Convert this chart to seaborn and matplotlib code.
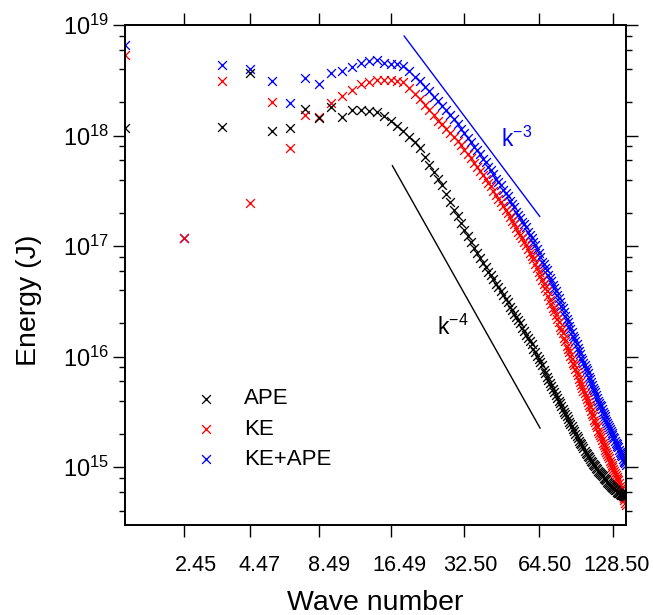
import numpy as np
import matplotlib
matplotlib.use("Agg")
import matplotlib.pyplot as plt
import matplotlib.ticker as mticker
import matplotlib.transforms as mtransforms
import seaborn as sns

# spectral index n = 1..144, plotted at the total wave number sqrt(n(n+1))
n_index = np.arange(1, 145)

# log10 of energy (J), one value per n
ape_log10 = [
    18.07, np.nan, 18.08, 18.57, 18.04, 18.07, 18.24, 18.16, 18.26, 18.17,
    18.23, 18.23, 18.22, 18.21, 18.18, 18.13, 18.09, 18.04, 17.99, 17.94,
    17.89, 17.81, 17.73, 17.67, 17.61, 17.55, 17.47, 17.40, 17.33, 17.27,
    17.21, 17.15, 17.09, 17.04, 16.98, 16.94, 16.89, 16.85, 16.81, 16.77,
    16.74, 16.70, 16.66, 16.63, 16.59, 16.56, 16.52, 16.49, 16.45, 16.42,
    16.39, 16.36, 16.33, 16.30, 16.26, 16.23, 16.20, 16.17, 16.14, 16.11,
    16.07, 16.04, 16.01, 15.98, 15.95, 15.92, 15.88, 15.85, 15.82, 15.79,
    15.76, 15.73, 15.71, 15.68, 15.65, 15.63, 15.60, 15.58, 15.55, 15.53,
    15.50, 15.48, 15.46, 15.44, 15.41, 15.39, 15.37, 15.35, 15.33, 15.30,
    15.28, 15.26, 15.24, 15.22, 15.21, 15.19, 15.17, 15.15, 15.13, 15.12,
    15.10, 15.09, 15.07, 15.06, 15.05, 15.03, 15.02, 15.01, 14.99, 14.98,
    14.97, 14.96, 14.95, 14.94, 14.93, 14.92, 14.90, 14.89, 14.89, 14.88,
    14.87, 14.86, 14.85, 14.84, 14.83, 14.82, 14.82, 14.81, 14.80, 14.79,
    14.79, 14.78, 14.78, 14.77, 14.77, 14.76, 14.76, 14.75, 14.75, 14.75,
    14.74, 14.74, 14.74, 14.74,
]

ke_log10 = [
    18.73, 17.07, 18.49, 17.39, 18.30, 17.89, 18.19, 18.17, 18.29, 18.36,
    18.41, 18.47, 18.48, 18.50, 18.50, 18.50, 18.49, 18.48, 18.43, 18.38,
    18.33, 18.28, 18.23, 18.19, 18.13, 18.10, 18.06, 18.02, 17.99, 17.95,
    17.91, 17.87, 17.83, 17.80, 17.75, 17.72, 17.68, 17.64, 17.61, 17.57,
    17.54, 17.50, 17.46, 17.43, 17.40, 17.36, 17.33, 17.30, 17.26, 17.23,
    17.20, 17.16, 17.13, 17.10, 17.07, 17.04, 17.01, 16.97, 16.94, 16.91,
    16.88, 16.84, 16.80, 16.77, 16.73, 16.69, 16.66, 16.62, 16.59, 16.55,
    16.51, 16.48, 16.44, 16.41, 16.38, 16.34, 16.31, 16.27, 16.24, 16.21,
    16.17, 16.14, 16.10, 16.07, 16.04, 16.01, 15.98, 15.94, 15.92, 15.89,
    15.86, 15.83, 15.80, 15.77, 15.74, 15.72, 15.69, 15.67, 15.64, 15.62,
    15.59, 15.56, 15.54, 15.51, 15.48, 15.46, 15.43, 15.41, 15.38, 15.36,
    15.33, 15.31, 15.29, 15.27, 15.25, 15.22, 15.20, 15.18, 15.16, 15.14,
    15.12, 15.10, 15.08, 15.06, 15.04, 15.02, 15.00, 14.98, 14.97, 14.95,
    14.93, 14.91, 14.89, 14.88, 14.86, 14.83, 14.81, 14.79, 14.77, 14.74,
    14.72, 14.70, 14.68, 14.66,
]

total_log10 = [
    18.82, 17.07, 18.64, 18.60, 18.49, 18.29, 18.52, 18.47, 18.57, 18.58,
    18.62, 18.66, 18.67, 18.68, 18.66, 18.65, 18.65, 18.63, 18.58, 18.53,
    18.49, 18.44, 18.40, 18.35, 18.31, 18.27, 18.23, 18.19, 18.15, 18.10,
    18.06, 18.02, 17.98, 17.94, 17.90, 17.87, 17.83, 17.79, 17.76, 17.72,
    17.69, 17.65, 17.61, 17.58, 17.55, 17.51, 17.48, 17.45, 17.41, 17.38,
    17.35, 17.31, 17.28, 17.25, 17.22, 17.20, 17.17, 17.13, 17.10, 17.07,
    17.04, 17.01, 16.97, 16.94, 16.90, 16.86, 16.84, 16.80, 16.78, 16.74,
    16.71, 16.68, 16.65, 16.62, 16.59, 16.56, 16.53, 16.49, 16.46, 16.44,
    16.40, 16.37, 16.34, 16.31, 16.28, 16.25, 16.22, 16.19, 16.17, 16.14,
    16.11, 16.08, 16.05, 16.02, 15.99, 15.97, 15.94, 15.92, 15.90, 15.88,
    15.85, 15.82, 15.80, 15.77, 15.74, 15.72, 15.70, 15.68, 15.65, 15.63,
    15.60, 15.58, 15.56, 15.55, 15.53, 15.50, 15.48, 15.46, 15.44, 15.42,
    15.40, 15.38, 15.36, 15.35, 15.33, 15.31, 15.29, 15.27, 15.26, 15.24,
    15.22, 15.21, 15.19, 15.18, 15.16, 15.14, 15.13, 15.11, 15.10, 15.07,
    15.06, 15.05, 15.04, 15.02,
]

# reference slopes k^-3 and k^-4 (end points)
k3_wave = [18.6, 65.2]
k3_energy = [7.98e18, 1.85e17]
k4_wave = [16.69, 65.4]
k4_energy = [5.36e17, 2.25e15]

tick_values = [2.449, 4.472, 8.485, 16.492, 32.496, 64.498, 128.498]
tick_labels = ["2.45", "4.47", "8.49", "16.49", "32.50", "64.50", "128.50"]

wave = np.sqrt(n_index * (n_index + 1.0))
ape = 10.0 ** np.array(ape_log10)
ke = 10.0 ** np.array(ke_log10)
total = 10.0 ** np.array(total_log10)

sns.set_style("white")
plt.rcParams["font.family"] = ["Liberation Sans", "DejaVu Sans"]
plt.rcParams["mathtext.fontset"] = "custom"
plt.rcParams["mathtext.rm"] = "Liberation Sans"
plt.rcParams["mathtext.it"] = "Liberation Sans:italic"
plt.rcParams["text.color"] = "black"
plt.rcParams["axes.labelcolor"] = "black"
plt.rcParams["xtick.color"] = "black"
plt.rcParams["ytick.color"] = "black"

fig = plt.figure(figsize=(6.53, 6.15), dpi=100)
ax = fig.add_axes([125 / 653, 90 / 615, 501 / 653, 500 / 615])

sns.lineplot(x=k3_wave, y=k3_energy, color="blue", lw=1.0, ax=ax)
sns.lineplot(x=k4_wave, y=k4_energy, color="black", lw=1.0, ax=ax)

mk = dict(marker="x", s=40, linewidth=0.95, ax=ax)
sns.scatterplot(x=wave, y=total, color="blue", label="KE+APE", **mk)
sns.scatterplot(x=wave, y=ke, color="red", label="KE", **mk)
sns.scatterplot(x=wave, y=ape, color="black", label="APE", **mk)

ax.set_xscale("log")
ax.set_yscale("log")
ax.set_xlim(np.sqrt(2.0), np.sqrt(144 * 145.0))
ax.set_ylim(3e14, 1e19)

ax.set_xticks(tick_values, tick_labels)
ax.xaxis.set_minor_locator(mticker.NullLocator())
ax.yaxis.set_major_locator(mticker.LogLocator(base=10, numticks=12))
ax.yaxis.set_minor_locator(mticker.LogLocator(base=10, subs=(2, 4, 6, 8), numticks=12))
ax.yaxis.set_minor_formatter(mticker.NullFormatter())

for sp in ax.spines.values():
    sp.set_linewidth(1.4)
    sp.set_color("black")
ax.tick_params(which="both", direction="out", top=True, right=True,
               bottom=True, left=True, labeltop=False, labelright=False,
               labelbottom=True, labelleft=True, width=1.0, color="black",
               labelcolor="black")
ax.tick_params(which="major", length=8.5)
ax.tick_params(which="minor", length=4.3)
ax.tick_params(axis="x", which="major", pad=13, labelsize=15.6)
ax.tick_params(axis="y", which="major", pad=3, labelsize=17)

# labels in the original sit a little right of their ticks
label_shift_px = [11, 10, 10, 8, 6, 6, 3]
for lab, dx in zip(ax.get_xticklabels(), label_shift_px):
    off = mtransforms.ScaledTranslation(dx / 100, 0, fig.dpi_scale_trans)
    lab.set_transform(lab.get_transform() + off)

ax.set_xlabel("Wave number", fontsize=20.5, labelpad=10)
ax.set_ylabel("Energy (J)", fontsize=20.5)
ax.yaxis.set_label_coords(-0.166, 0.45)

ax.text(45.5, 7.9e17, r"$\mathregular{k^{-3}}$", color="blue", fontsize=16.5)
ax.text(25.3, 1.57e16, r"$\mathregular{k^{-4}}$", color="black", fontsize=16.5)

handles, labels = ax.get_legend_handles_labels()
ax.legend(handles[::-1], labels[::-1], loc="upper left",
          bbox_to_anchor=(0.1265, 0.273), frameon=False, fontsize=16,
          handlelength=1.6, handletextpad=0.9, labelspacing=0.41,
          borderpad=0, borderaxespad=0, scatterpoints=1)

fig.savefig("out.png", dpi=100)
